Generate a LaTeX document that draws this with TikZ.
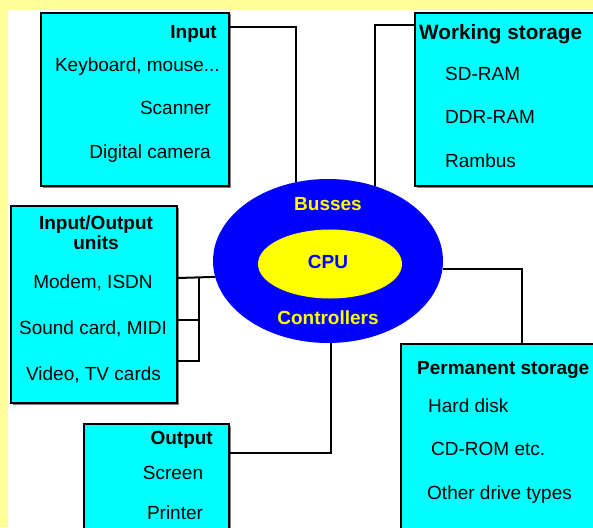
\documentclass[tikz,border=0pt]{standalone}
\usepackage{fontspec}
\setmainfont{Liberation Sans}
\usetikzlibrary{shapes.geometric,shadows}
\definecolor{bgyellow}{RGB}{255,255,153}
\definecolor{boxcyan}{RGB}{0,255,255}
\definecolor{ringblue}{RGB}{0,0,255}
\definecolor{coreyellow}{RGB}{255,255,0}
\tikzset{
  box/.style={draw=black, line width=1.8pt, fill=boxcyan, rectangle, inner sep=0pt,
    anchor=north west,
    drop shadow={shadow xshift=1.6pt, shadow yshift=-1.6pt, fill=black!55, opacity=0.9}},
  txt/.style={inner sep=0pt, font=\fontsize{19}{20}\selectfont},
  ttl/.style={txt, font=\fontsize{19}{20}\selectfont\bfseries},
  conn/.style={draw=black, line width=2pt},
}
\begin{document}
\begin{tikzpicture}[x=1pt,y=-1pt]
\clip (0,0) rectangle (593,527);
\fill[bgyellow] (0,0) rectangle (593,527);
\fill[white] (8,10) rectangle (593,527);

% boxes
\node[box, minimum width=188pt, minimum height=173pt] (inbox) at (40,12) {};
\node[box, minimum width=200pt, minimum height=173pt] (wsbox) at (414,12) {};
\node[box, minimum width=166pt, minimum height=197pt] (iobox) at (10,205) {};
\node[box, minimum width=210pt, minimum height=200pt] (psbox) at (400,343) {};
\node[box, minimum width=145pt, minimum height=120pt] (outbox) at (83,423) {};

% central ellipses
\node[ellipse, fill=ringblue, inner sep=0pt, minimum width=230pt, minimum height=164pt] (bus) at (328,261) {};
\node[ellipse, fill=coreyellow, inner sep=0pt, minimum width=144pt, minimum height=69pt] (cpu) at (330,264) {};
\node[ttl, text=coreyellow, anchor=base] (busses) at (328,210) {Busses};
\node[ttl, text=ringblue, anchor=base] (cputxt) at (328,268) {CPU};
\node[ttl, text=coreyellow, anchor=base] (ctrl) at (328,324) {Controllers};

% Input texts
\node[ttl, anchor=base east] (inttl) at (217,38) {Input};
\node[txt, anchor=base east] (in1) at (220,71) {Keyboard, mouse...};
\node[txt, anchor=base east] (in2) at (211,114) {Scanner};
\node[txt, anchor=base east] (in3) at (211,158) {Digital camera};

% Working storage texts
\node[ttl, font=\fontsize{20.7}{22}\selectfont\bfseries, anchor=base west] (wsttl) at (419,39.5) {Working storage};
\node[txt, anchor=base west] (ws1) at (445,80) {SD-RAM};
\node[txt, anchor=base west] (ws2) at (445,123) {DDR-RAM};
\node[txt, anchor=base west] (ws3) at (445,167) {Rambus};

% I/O texts
\node[ttl, align=center] (iottl) at (96,233) {Input/Output\\units};
\node[txt, anchor=base] (io1) at (93,288) {Modem, ISDN};
\node[txt, anchor=base] (io2) at (93,334) {Sound card, MIDI};
\node[txt, anchor=base] (io3) at (93.5,380) {Video, TV cards};

% Permanent storage texts
\node[ttl, anchor=base west] (psttl) at (417,374) {Permanent storage};
\node[txt, anchor=base west] (ps1) at (428,412) {Hard disk};
\node[txt, anchor=base west] (ps2) at (431,455) {CD-ROM etc.};
\node[txt, anchor=base west] (ps3) at (427,499) {Other drive types};

% Output texts
\node[ttl, anchor=base east] (outttl) at (213,444) {Output};
\node[txt, anchor=base] (out1) at (173,479) {Screen};
\node[txt, anchor=base] (out2) at (175,519) {Printer};

% connectors
\coordinate (iojoin) at (199,278);
\draw[conn] (inbox.east |- 0,27) -| (bus.112.8);
\draw[conn] (wsbox.west |- 0,25) -| (bus.58.5);
\draw[conn] (bus.-4.5) -| (psbox.north -| 522,0);
\draw[conn] (outbox.east |- 0,453) -| (bus.-88.6);
\draw[conn] (iobox.east |- 0,278) -- (bus.188.6);
\draw[conn] (iobox.east |- 0,320) -| (iojoin);
\draw[conn] (iobox.east |- 0,361) -| (iojoin);
\end{tikzpicture}
\end{document}
